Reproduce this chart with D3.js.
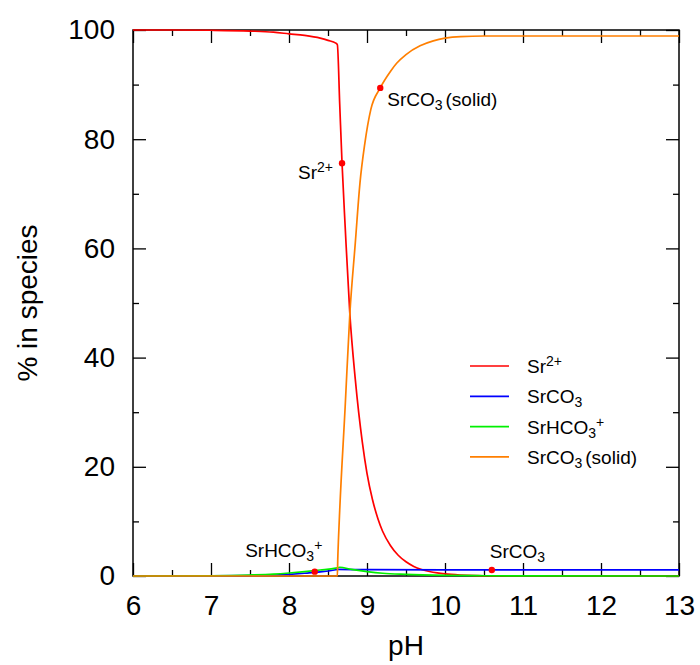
<!DOCTYPE html>
<html>
<head>
<meta charset="utf-8">
<script src="https://cdn.jsdelivr.net/npm/d3@7"></script>
<style>
  html, body { margin: 0; padding: 0; background: #fff; }
  svg { display: block; font-family: "Liberation Sans", Arial, Helvetica, sans-serif; }
</style>
</head>
<body>
<svg id="chart" width="700" height="665"></svg>
<script>
// ---------- data ----------
const srPH   = [6.0, 6.5, 7.0, 7.5, 7.8, 8.0, 8.2, 8.4, 8.5, 8.6, 8.62, 8.65, 8.68, 8.72, 8.78, 8.85, 8.94, 9.0, 9.07, 9.14, 9.2, 9.3, 9.4, 9.5, 9.6, 9.7, 9.8, 9.9, 10.0, 10.2, 10.4, 10.7, 11.0, 11.5, 13.0];
const srVals = [100, 100, 99.95, 99.8, 99.6, 99.3, 99.0, 98.5, 98.1, 97.6, 97.3, 86.5, 75.6, 64, 48, 36, 24.5, 18.8, 14, 10.5, 8.2, 5.6, 3.8, 2.6, 1.75, 1.2, 0.82, 0.56, 0.38, 0.18, 0.08, 0.03, 0.01, 0, 0];

const aqPH   = [6.0, 7.0, 7.5, 7.8, 8.0, 8.2, 8.4, 8.6, 8.62, 9.0, 10.0, 11.0, 12.0, 13.0];
const aqVals = [0, 0.02, 0.08, 0.15, 0.3, 0.5, 0.75, 1.15, 1.2, 1.15, 1.12, 1.12, 1.12, 1.12];

const hcPH   = [6.0, 7.0, 7.5, 7.8, 8.0, 8.2, 8.4, 8.6, 8.65, 8.8, 9.0, 9.2, 9.5, 10.0, 10.5, 11.0, 13.0];
const hcVals = [0, 0.05, 0.18, 0.35, 0.55, 0.8, 1.1, 1.45, 1.6, 1.2, 0.8, 0.5, 0.3, 0.12, 0.05, 0.02, 0];

const solPH   = [6.0, 8.0, 8.62, 8.625, 8.635, 8.65, 8.72, 8.78, 8.85, 8.91, 8.97, 9.05, 9.17, 9.3, 9.38, 9.5, 9.68, 9.85, 10.0, 10.2, 10.5, 13.0];
const solVals = [0, 0, 0, 3, 7, 12, 31, 48, 61, 72, 79, 85.5, 89.4, 92.4, 93.9, 95.5, 97.1, 98.0, 98.5, 98.8, 98.9, 98.9];

// annotation markers (pH, %)
const markPH   = [8.68, 9.17, 8.33, 10.6];
const markVals = [75.6, 89.4, 0.8, 1.1];

const xMajorTicks = [6, 7, 8, 9, 10, 11, 12, 13];
const xMinorTicks = [6.5, 7.5, 8.5, 9.5, 10.5, 11.5, 12.5];
const yMajorTicks = [0, 20, 40, 60, 80, 100];
const yMinorTicks = [10, 30, 50, 70, 90];

const xTitle = "pH";
const yTitle = "% in species";

// rich labels: [text, kind] kind: "" normal, "sub", "sup"
const labelSr   = [["Sr", ""], ["2+", "sup"]];
const labelAq   = [["SrCO", ""], ["3", "sub"]];
const labelHc   = [["SrHCO", ""], ["3", "sub"], ["+", "sup"]];
const labelSol  = [["SrCO", ""], ["3", "sub"], ["(solid)", "gap"]];

const seriesColors = ["#ff0000", "#0000ff", "#00f000", "#ff7f00"];

// ---------- layout ----------
const svg = d3.select("#chart");
const L = 133, R = 679, T = 30, B = 576;
const x = d3.scaleLinear().domain([6, 13]).range([L, R]);
const y = d3.scaleLinear().domain([0, 100]).range([B, T]);

const tickFont = 28;

// frame
svg.append("rect").attr("x", L).attr("y", T).attr("width", R - L).attr("height", B - T)
  .attr("fill", "none").attr("stroke", "#000").attr("stroke-width", 1.5);

function styleAxis(g) {
  g.select(".domain").remove();
  g.selectAll(".tick line").attr("stroke", "#000").attr("stroke-width", 1.3);
  g.selectAll(".tick text").attr("font-size", tickFont).attr("fill", "#000")
    .attr("font-family", '"Liberation Sans", Arial, sans-serif');
}

// bottom axis with labels
svg.append("g").attr("transform", `translate(0,${B})`)
  .call(d3.axisBottom(x).tickValues(xMajorTicks).tickSize(-13).tickPadding(19).tickFormat(d3.format("d")))
  .call(styleAxis);
svg.append("g").attr("transform", `translate(0,${B})`)
  .call(d3.axisBottom(x).tickValues(xMinorTicks).tickSize(-6).tickFormat(""))
  .call(styleAxis);
// top axis
svg.append("g").attr("transform", `translate(0,${T})`)
  .call(d3.axisTop(x).tickValues(xMajorTicks).tickSize(-13).tickFormat(""))
  .call(styleAxis);
svg.append("g").attr("transform", `translate(0,${T})`)
  .call(d3.axisTop(x).tickValues(xMinorTicks).tickSize(-6).tickFormat(""))
  .call(styleAxis);
// left axis with labels
svg.append("g").attr("transform", `translate(${L},0)`)
  .call(d3.axisLeft(y).tickValues(yMajorTicks).tickSize(-13).tickPadding(18).tickFormat(d3.format("d")))
  .call(styleAxis);
svg.append("g").attr("transform", `translate(${L},0)`)
  .call(d3.axisLeft(y).tickValues(yMinorTicks).tickSize(-6).tickFormat(""))
  .call(styleAxis);
// right axis
svg.append("g").attr("transform", `translate(${R},0)`)
  .call(d3.axisRight(y).tickValues(yMajorTicks).tickSize(-13).tickFormat(""))
  .call(styleAxis);
svg.append("g").attr("transform", `translate(${R},0)`)
  .call(d3.axisRight(y).tickValues(yMinorTicks).tickSize(-6).tickFormat(""))
  .call(styleAxis);

// axis titles
svg.append("text").attr("x", (L + R) / 2).attr("y", 655).attr("text-anchor", "middle")
  .attr("font-size", 28).text(xTitle);
svg.append("text").attr("transform", `translate(37,${(T + B) / 2}) rotate(-90)`)
  .attr("text-anchor", "middle").attr("font-size", 28).text(yTitle);

// ---------- curves ----------
const line = d3.line().x(d => x(d[0])).y(d => y(d[1])).curve(d3.curveMonotoneX);
const series = [
  [srPH, srVals],
  [aqPH, aqVals],
  [hcPH, hcVals],
  [solPH, solVals]
];
series.forEach((s, i) => {
  const pts = s[0].map((p, k) => [p, s[1][k]]);
  svg.append("path").datum(pts).attr("d", line)
    .attr("fill", "none").attr("stroke", seriesColors[i]).attr("stroke-width", 1.7)
    .attr("stroke-linejoin", "round");
});

// ---------- rich text helper ----------
const SUB = 4, SUP = -7, SMALL = 14;
function rich(textSel, segs) {
  let shift = 0;
  segs.forEach(([t, kind]) => {
    const ts = textSel.append("tspan").text(t);
    let target = 0;
    if (kind === "sub") { target = SUB; ts.attr("font-size", SMALL); }
    else if (kind === "sup") { target = SUP; ts.attr("font-size", SMALL); }
    const dy = target - shift;
    if (dy !== 0) ts.attr("dy", dy);
    if (kind === "gap") ts.attr("dx", 3);
    shift = target;
  });
  return textSel;
}

// ---------- markers + annotations ----------
const annLabels = [labelSr, labelSol, labelHc, labelAq];
const annStyle = [
  { dx: -9, dy: 16, anchor: "end" },
  { dx: 7, dy: 18, anchor: "start" },
  { dx: -31, dy: -15, anchor: "middle" },
  { dx: -2, dy: -12, anchor: "start" }
];
markPH.forEach((p, i) => {
  svg.append("circle").attr("cx", x(p)).attr("cy", y(markVals[i])).attr("r", 3.2).attr("fill", "#ff0000");
  const t = svg.append("text").attr("x", x(p) + annStyle[i].dx).attr("y", y(markVals[i]) + annStyle[i].dy)
    .attr("text-anchor", annStyle[i].anchor).attr("font-size", 19).attr("fill", "#000");
  rich(t, annLabels[i]);
});

// ---------- legend ----------
const legLabels = [labelSr, labelAq, labelHc, labelSol];
const legTop = 366, legStep = 30.3;
legLabels.forEach((lab, i) => {
  const yy = legTop + i * legStep;
  svg.append("line").attr("x1", 470).attr("x2", 509).attr("y1", yy).attr("y2", yy)
    .attr("stroke", seriesColors[i]).attr("stroke-width", 1.7);
  const t = svg.append("text").attr("x", 527).attr("y", yy + 7).attr("font-size", 19).attr("fill", "#000");
  rich(t, lab);
});
</script>
</body>
</html>
